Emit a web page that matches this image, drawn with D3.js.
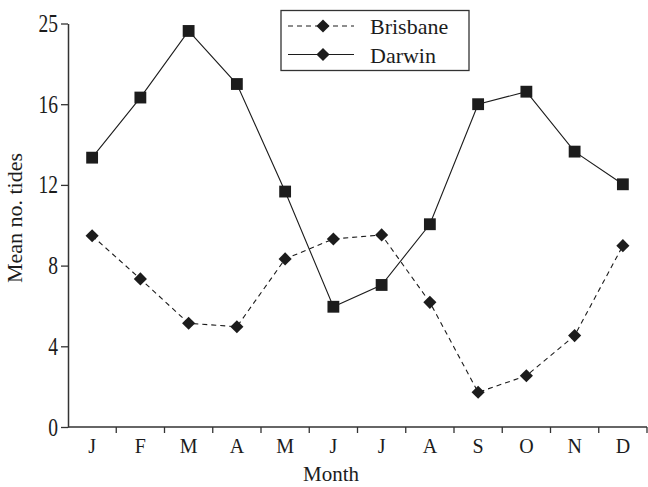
<!DOCTYPE html>
<html>
<head>
<meta charset="utf-8">
<script src="https://cdn.jsdelivr.net/npm/d3@7"></script>
<style>
  html, body { margin: 0; padding: 0; background: #fff; }
  svg { display: block; }
  svg text { font-family: "Liberation Serif", "Times New Roman", serif !important; }
</style>
</head>
<body>
<svg id="chart" width="648" height="487"></svg>
<script>
// Monthly mean number of tides
const months = ["J", "F", "M", "A", "M", "J", "J", "A", "S", "O", "N", "D"];
const brisbane = [9.48, 7.34, 5.14, 4.97, 8.33, 9.32, 9.52, 6.18, 1.72, 2.54, 4.53, 8.99];
const darwin = [13.35, 16.33, 19.63, 17.0, 11.67, 5.96, 7.04, 10.05, 16.0, 16.62, 13.65, 12.03];
const yTickValues = [0, 4, 8, 12, 16, 20];
const yTickLabels = ["0", "4", "8", "12", "16", "25"];
const seriesNames = ["Brisbane", "Darwin"];

const ink = "#1c1c1c";
const svg = d3.select("#chart");

const plotLeft = 68, plotRight = 647, plotTop = 23.5, plotBottom = 427;

const x = d3.scaleBand().domain(d3.range(months.length)).range([plotLeft, plotRight]).padding(0);
const y = d3.scaleLinear().domain([0, 20]).range([plotBottom, plotTop]);

// Y axis
const yAxis = d3.axisLeft(y)
  .tickValues(yTickValues)
  .tickFormat((d, i) => yTickLabels[i])
  .tickSize(7)
  .tickSizeOuter(0);
const gy = svg.append("g").attr("transform", `translate(${plotLeft},0)`).call(yAxis);
gy.select(".domain").attr("stroke", "#333").attr("stroke-width", 1.5);
gy.selectAll(".tick line").attr("stroke", "#333").attr("stroke-width", 1.3);
gy.selectAll(".tick text")
  .attr("x", null)
  .attr("dy", "0.33em")
  .attr("transform", "translate(-10,0) scale(1,1.25)")
  .attr("font-size", 19.5)
  .attr("fill", ink);

// X axis: ticks sit on the boundaries between months, labels at centres
const gx = svg.append("g");
gx.append("line")
  .attr("x1", plotLeft).attr("x2", plotRight)
  .attr("y1", plotBottom).attr("y2", plotBottom)
  .attr("stroke", "#333").attr("stroke-width", 1.5);
gx.selectAll("line.bound")
  .data(d3.range(1, months.length + 1))
  .join("line")
  .attr("class", "bound")
  .attr("x1", i => x(i - 1) + x.bandwidth())
  .attr("x2", i => x(i - 1) + x.bandwidth())
  .attr("y1", plotBottom).attr("y2", plotBottom + 6)
  .attr("stroke", "#333").attr("stroke-width", 1.3);
gx.selectAll("text")
  .data(months)
  .join("text")
  .attr("x", (d, i) => x(i) + x.bandwidth() / 2)
  .attr("y", 453)
  .attr("text-anchor", "middle")
  .attr("font-size", 20)
  .attr("fill", ink)
  .text(d => d);

// Axis titles
svg.append("text")
  .attr("x", 331).attr("y", 481)
  .attr("text-anchor", "middle")
  .attr("font-size", 21)
  .attr("fill", ink)
  .text("Month");
svg.append("text")
  .attr("transform", `translate(22,218) rotate(-90)`)
  .attr("text-anchor", "middle")
  .attr("font-size", 22)
  .attr("fill", ink)
  .text("Mean no. tides");

const line = d3.line()
  .x((d, i) => x(i) + x.bandwidth() / 2)
  .y(d => y(d));

const diamond = d3.symbol().type(d3.symbolDiamond2).size(110);
const square = d3.symbol().type(d3.symbolSquare).size(140);

// Brisbane: dashed line with diamonds
svg.append("path")
  .datum(brisbane)
  .attr("d", line)
  .attr("fill", "none")
  .attr("stroke", ink)
  .attr("stroke-width", 1.1)
  .attr("stroke-dasharray", "5,4");
svg.selectAll("path.bris")
  .data(brisbane)
  .join("path")
  .attr("class", "bris")
  .attr("transform", (d, i) => `translate(${x(i) + x.bandwidth() / 2},${y(d)})`)
  .attr("d", diamond)
  .attr("fill", ink);

// Darwin: solid line with squares
svg.append("path")
  .datum(darwin)
  .attr("d", line)
  .attr("fill", "none")
  .attr("stroke", ink)
  .attr("stroke-width", 1.1);
svg.selectAll("path.dar")
  .data(darwin)
  .join("path")
  .attr("class", "dar")
  .attr("transform", (d, i) => `translate(${x(i) + x.bandwidth() / 2},${y(d)})`)
  .attr("d", square)
  .attr("fill", ink);

// Legend
const lg = svg.append("g");
lg.append("rect")
  .attr("x", 281).attr("y", 10.5)
  .attr("width", 188).attr("height", 60)
  .attr("fill", "#fff")
  .attr("stroke", "#333").attr("stroke-width", 1.3);
const legendRows = lg.selectAll("g.row")
  .data(seriesNames)
  .join("g")
  .attr("class", "row")
  .attr("transform", (d, i) => `translate(0,${26 + i * 28.5})`);
legendRows.append("line")
  .attr("x1", 288).attr("x2", 354)
  .attr("y1", 0).attr("y2", 0)
  .attr("stroke", ink).attr("stroke-width", 1.1)
  .attr("stroke-dasharray", (d, i) => i === 0 ? "5,4" : null);
legendRows.append("path")
  .attr("transform", "translate(323,0)")
  .attr("d", diamond)
  .attr("fill", ink);
legendRows.append("text")
  .attr("x", 370).attr("y", 8)
  .attr("font-size", 22)
  .attr("fill", ink)
  .text(d => d);
</script>
</body>
</html>
